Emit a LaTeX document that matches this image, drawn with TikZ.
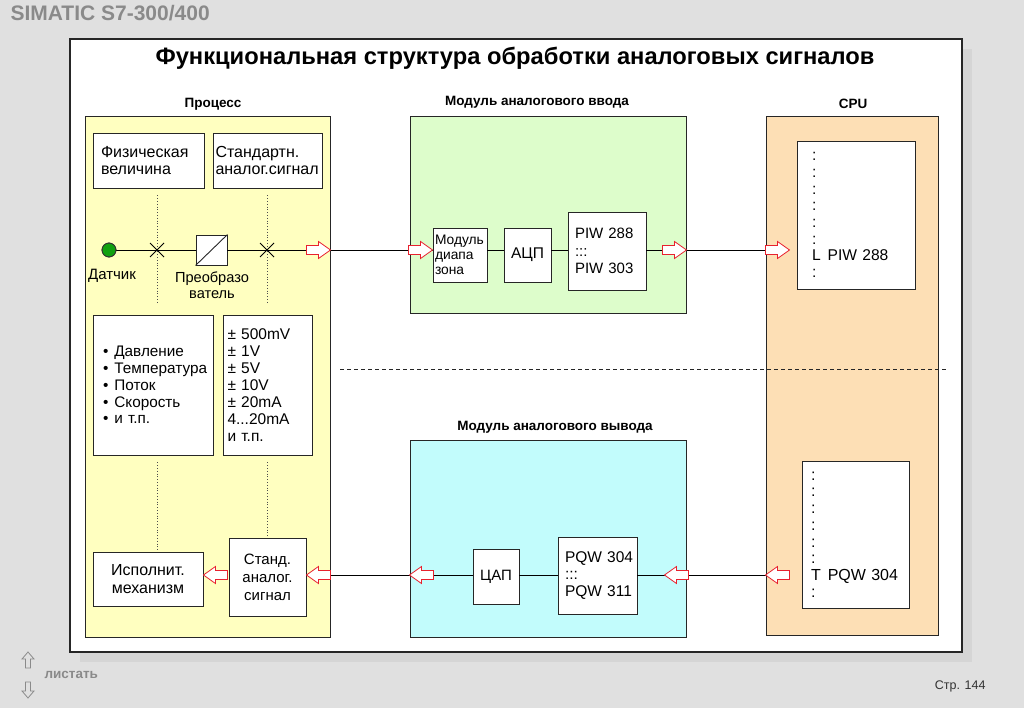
\documentclass[tikz,border=0pt]{standalone}
\usepackage{fontspec}
\setmainfont{Liberation Sans}
\definecolor{pgbg}{HTML}{E0E0E0}
\definecolor{shadowc}{HTML}{D5D5D5}
\definecolor{procc}{HTML}{FFFFC0}
\definecolor{ainc}{HTML}{DDFDCB}
\definecolor{aoutc}{HTML}{C2FCFC}
\definecolor{cpuc}{HTML}{FDDFB5}
\definecolor{arrred}{HTML}{E8212E}
\definecolor{graytxt}{HTML}{8A8A8A}
\definecolor{sensc}{HTML}{10A010}
\newcommand{\bul}[1]{•\nobreak\hspace{6pt}#1}
\begin{document}
\begin{tikzpicture}[x=1pt,y=-1pt,
  box/.style={draw=black!85, line width=0.9pt, fill=white, inner sep=0pt},
  grp/.style={draw=black!85, line width=1pt, inner sep=0pt},
  sz/.style 2 args={minimum width=#1pt, minimum height=#2pt},
  hdr/.style={font=\fontsize{13.5}{16}\selectfont\bfseries},
  fs/.style 2 args={font=\fontsize{#1}{#2}\selectfont},
  dots/.style={black!70, dotted, line width=0.8pt},
  sig/.style={black, line width=0.9pt},
  harr/.pic={\draw[arrred, fill=white, line width=0.8pt, line join=miter]
      (-24,-4.5) -- (-12,-4.5) -- (-12,-8.5) -- (0,0) -- (-12,8.5) -- (-12,4.5) -- (-24,4.5) -- cycle;},
  navarr/.pic={\draw[graytxt, fill=pgbg, line width=0.8pt]
      (0,-8) -- (6,-1) -- (2.5,-1) -- (2.5,8) -- (-2.5,8) -- (-2.5,-1) -- (-6,-1) -- cycle;},
]
\useasboundingbox (0,0) rectangle (1024,708);
\fill[pgbg] (0,0) rectangle (1024,708);
\fill[shadowc] (80,49) rectangle (972,662);
\draw[fill=white, draw=black!85, line width=1.3pt] (70,39) rectangle (962,652);

% header texts
\node[font=\fontsize{21}{24}\selectfont\bfseries, text=graytxt, anchor=west] (brand) at (7,13) {SIMATIC S7-300/400};
\node[font=\fontsize{23.7}{27}\selectfont\bfseries] (title) at (515,58) {Функциональная структура обработки аналоговых сигналов};

% group boxes
\node[grp, fill=procc, sz={245}{520}] (proc) at (207.5,377) {};
\node[grp, fill=ainc, sz={276}{196}] (ain) at (548,215) {};
\node[grp, fill=aoutc, sz={276}{197}] (aout) at (548,538.5) {};
\node[grp, fill=cpuc, sz={172}{518}] (cpu) at (852,376) {};

\node[hdr] (hproc) at (213,104) {Процесс};
\node[hdr] (hain) at (537,102) {Модуль аналогового ввода};
\node[hdr] (hcpu) at (853,104) {CPU};
\node[hdr] (haout) at (555,427) {Модуль аналогового вывода};

% separator
\coordinate (sepL) at (340,369);
\coordinate (sepR) at (947,369);
\draw[black!85, line width=0.9pt, dash pattern=on 4pt off 3pt] (sepL) -- (sepR);

% process boxes
\node[box, fs={16}{17}, sz={111}{55}, text width=95pt, align=left] (fiz) at (148.5,160.5) {Физическая\\величина};
\node[box, fs={16}{17}, sz={109}{55}, text width=104pt, align=left] (std) at (267.5,160.5) {Стандартн.\\аналог.сигнал};
\node[box, fs={15.3}{16.8}, sz={120}{140}, text width=100pt, align=left] (bul) at (153,385)
  {\bul{Давление}\\\bul{Температура}\\\bul{Поток}\\\bul{Скорость}\\\bul{и т.п.}};
\node[box, fs={15.5}{17}, sz={89}{140}, text width=80pt, align=left] (rng) at (267.5,385)
  {±~500mV\\±~1V\\±~5V\\±~10V\\±~20mA\\4...20mA\\и~т.п.};
\node[box, fs={16}{18}, sz={110}{54}, align=center] (isp) at (148,579) {Исполнит.\\механизм};
\node[box, fs={15}{18}, sz={77}{78}, align=center] (sstd) at (267.5,577) {Станд.\\аналог.\\сигнал};

% signal chain (upper)
\coordinate (up) at (0,250);
\coordinate (lo) at (0,575);
\node[circle, draw=black!80, fill=sensc, minimum size=14pt, inner sep=0pt, line width=0.8pt] (sens) at (109,250) {};
\node[fs={15}{17}] (lsens) at (112,276) {Датчик};
\node[box, sz={31}{30}] (conv) at (211.5,250) {};
\draw[black!85, line width=0.9pt] (conv.south west) -- (conv.north east);
\node[fs={14.6}{16}, align=center] (lconv) at (212,285) {Преобразо\\ватель};
\coordinate (x1) at (157,250);
\coordinate (x2) at (267,250);

\draw[dots] ([yshift=-7pt]x1 |- fiz.south) -- ([yshift=10pt]x1 |- bul.north);
\draw[dots] ([yshift=-7pt]x2 |- std.south) -- ([yshift=10pt]x2 |- rng.north);
\draw[dots] ([yshift=-7pt]x1 |- bul.south) -- (x1 |- isp.north);
\draw[dots] ([yshift=-7pt]x2 |- rng.south) -- (x2 |- sstd.north);

\node[box, fs={13.8}{15}, sz={54}{54}, text width=50pt, align=left] (mod) at (460,255) {Модуль\\диапа\\зона};
\node[box, fs={15.5}{17}, sz={47}{54}] (adc) at (527.5,255) {АЦП};
\node[box, fs={15}{17.5}, sz={78}{78}, text width=64pt, align=left] (piw) at (607,251) {PIW~288\\:::\\PIW~303};

\node[box, sz={118}{148}, fs={15.6}{16.7}, text width=88pt, align=left] (cpuin) at (856,215)
  {:\\:\\:\\:\\:\\:\\L\nobreak\hspace{7pt}PIW~288\\:};
\node[box, sz={107}{147}, fs={16}{16.7}, text width=89pt, align=left] (cpuout) at (855.5,534.5)
  {:\\:\\:\\:\\:\\:\\T\nobreak\hspace{7pt}PQW~304\\:};

\node[box, fs={15}{17}, sz={46}{55}] (dac) at (496,576.5) {ЦАП};
\node[box, fs={15.5}{17}, sz={79}{77}, text width=65pt, align=left] (pqw) at (597.5,575.5) {PQW~304\\:::\\PQW~311};

% upper connectors
\draw[sig] (sens) -- (conv);
\draw[sig] (conv.east) -- (up -| mod.west);
\draw[sig] (up -| mod.east) -- (up -| adc.west);
\draw[sig] (up -| adc.east) -- (up -| piw.west);
\draw[sig] (up -| piw.east) -- (up -| cpu.west);
\draw[sig] ([shift={(-7pt,-7pt)}]x1) -- ([shift={(7pt,7pt)}]x1);
\draw[sig] ([shift={(-7pt,7pt)}]x1) -- ([shift={(7pt,-7pt)}]x1);
\draw[sig] ([shift={(-7pt,-7pt)}]x2) -- ([shift={(7pt,7pt)}]x2);
\draw[sig] ([shift={(-7pt,7pt)}]x2) -- ([shift={(7pt,-7pt)}]x2);
\fill[sensc] (sens) circle (6.5pt);
\draw[black!80, line width=0.8pt] (sens) circle (7pt);

% lower connectors
\draw[sig] (lo -| cpu.west) -- (lo -| pqw.east);
\draw[sig] (lo -| pqw.west) -- (lo -| dac.east);
\draw[sig] (lo -| dac.west) -- (lo -| sstd.east);

% hollow arrows
\pic at (up -| proc.east) {harr};
\pic at (up -| mod.west) {harr};
\pic at (up -| ain.east) {harr};
\pic at ([xshift=24pt]up -| cpu.west) {harr};
\pic[rotate=180] at (lo -| cpu.west) {harr};
\pic[rotate=180] at ([xshift=-22pt]lo -| aout.east) {harr};
\pic[rotate=180] at (lo -| aout.west) {harr};
\pic[rotate=180] at (lo -| sstd.east) {harr};
\pic[rotate=180] at (lo -| isp.east) {harr};

% footer
\pic at (28,660) {navarr};
\pic[rotate=180] at (28,690) {navarr};
\node[font=\fontsize{13.5}{15}\selectfont\bfseries, text=graytxt, anchor=west] (nav) at (41,675) {листать};
\node[font=\fontsize{12.5}{14}\selectfont, text=black!80, anchor=east] (page) at (989,686) {Стр. 144};
\end{tikzpicture}
\end{document}
